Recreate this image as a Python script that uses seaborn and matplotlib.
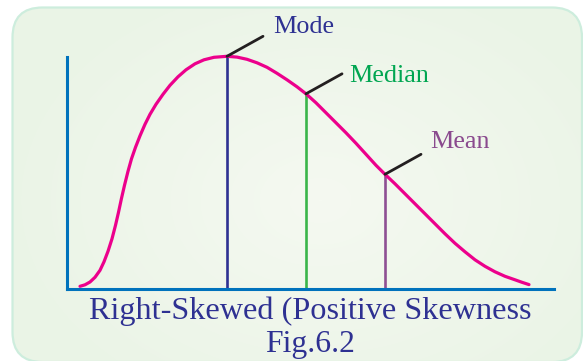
import numpy as np
import matplotlib
matplotlib.use("Agg")
import matplotlib.pyplot as plt
from matplotlib.patches import FancyBboxPatch
from matplotlib.colors import LinearSegmentedColormap
import seaborn as sns
import pandas as pd

# Right-skewed frequency curve (arbitrary units: x 0..487, height 0..232)
curve_x = [13, 18, 23, 28, 33, 37, 41, 45, 48.5, 51.5, 54.5, 57.5, 61, 64.5,
           68.5, 73, 78, 83, 89, 96, 103, 111, 119, 128, 137, 147, 160,
           170, 180, 190, 200, 210, 220, 230, 239, 249, 259, 269, 279, 289,
           299, 309, 318, 328, 338, 348, 358, 368, 378, 388, 398, 408, 418,
           428, 438, 448, 455, 462]
curve_y = [3.0, 4.5, 7.3, 12.0, 19.0, 27.5, 38.0, 50.5, 64.0, 77.0, 91.0,
           104.0, 118.0, 130.5, 142.0, 153.5, 165.0, 175.0, 185.0, 195.0,
           204.0, 212.5, 219.5, 225.5, 229.5, 232.0, 233.0,
           232.2, 230.0, 226.5, 222.0, 216.0, 209.5, 202.5, 195.5, 186.5,
           176.5, 166.5, 156.5, 146.0, 135.0, 124.0, 115.0, 105.5, 95.5,
           85.5, 75.5, 65.5, 55.5, 46.0, 37.5, 29.5, 23.0, 17.5, 13.0, 9.5,
           7.0, 4.7]

# Measures of central tendency
measure_names = ["Mode", "Median", "Mean"]
measure_x = [160, 239, 318]
measure_y = [233.0, 195.5, 115.0]
line_colors = ["#2E3192", "#3AB54A", "#8E4F93"]
text_colors = ["#2E3192", "#00A651", "#8A4A8E"]
# label offsets from the curve point, in pixels
label_dx = [45.7, 43.0, 45.0]
label_dy = [23.0, 12.3, 25.8]

title_lines = ["Right-Skewed (Positive Skewness", "Fig.6.2"]

sns.set_style("white")
plt.rcParams["font.family"] = ["Liberation Serif", "DejaVu Serif"]

W, H = 583, 361
fig = plt.figure(figsize=(W / 100, H / 100), dpi=100)
fig.patch.set_facecolor("white")

# Rounded panel with a soft green gradient
bg = fig.add_axes([0, 0, 1, 1])
bg.set_xlim(0, W)
bg.set_ylim(H, 0)
bg.axis("off")
box = FancyBboxPatch((12.5, 7.5), 569.5, 354.5,
                     boxstyle="round,pad=0,rounding_size=30",
                     fc="none", ec="#CDEDDD", lw=1.6, zorder=3)
bg.add_patch(box)
yy, xx = np.mgrid[0:H, 0:W]
grad = np.clip(np.hypot((xx - 320) / 330.0, (yy - 200) / 240.0), 0, 1)
cmap = LinearSegmentedColormap.from_list("panel", ["#F5F9F1", "#EAF4E6"])
im = bg.imshow(grad, extent=(0, W, H, 0), cmap=cmap, vmin=0, vmax=1,
               zorder=1, aspect="auto", interpolation="bilinear")
im.set_clip_path(box)

# Plot area
x0, x1 = 67, 554
y0, y1 = 57, 289.3
ax = fig.add_axes([x0 / W, 1 - y1 / H, (x1 - x0) / W, (y1 - y0) / H])
ax.set_facecolor("none")
ax.set_xlim(0, 487)
ax.set_ylim(0, 232.3)
ax.set_xticks([])
ax.set_yticks([])
for side in ("top", "right"):
    ax.spines[side].set_visible(False)
for side in ("left", "bottom"):
    ax.spines[side].set_color("#0072BC")
    ax.spines[side].set_linewidth(2.2)
    ax.spines[side].set_zorder(4)

df = pd.DataFrame({"x": curve_x, "y": curve_y})
sns.lineplot(data=df, x="x", y="y", ax=ax, color="#EC008C", lw=2.3,
             sort=False, clip_on=False, zorder=3, solid_capstyle="round",
             solid_joinstyle="round")

for name, mx, my, lc, tc, dx, dy in zip(measure_names, measure_x, measure_y,
                                         line_colors, text_colors,
                                         label_dx, label_dy):
    ax.vlines(mx, 0, my, color=lc, lw=1.9, zorder=2)
    ax.annotate("", xy=(mx, my), xytext=(36, 20), textcoords="offset pixels",
                arrowprops=dict(arrowstyle="-", color="#231F20", lw=2.0,
                                shrinkA=0, shrinkB=0), annotation_clip=False)
    ax.annotate(name, xy=(mx, my), xytext=(dx, dy), textcoords="offset pixels",
                ha="left", va="baseline", color=tc, fontsize=18.8,
                annotation_clip=False)

ax.set_xlabel("")
ax.set_ylabel("")

fig.text(310 / W, 1 - 319.3 / H, title_lines[0], ha="center", va="baseline",
         color="#2E3192", fontsize=23.2)
fig.text(310 / W, 1 - 351.7 / H, title_lines[1], ha="center", va="baseline",
         color="#2E3192", fontsize=22.8)

fig.savefig("out.png", dpi=100, facecolor="white")
